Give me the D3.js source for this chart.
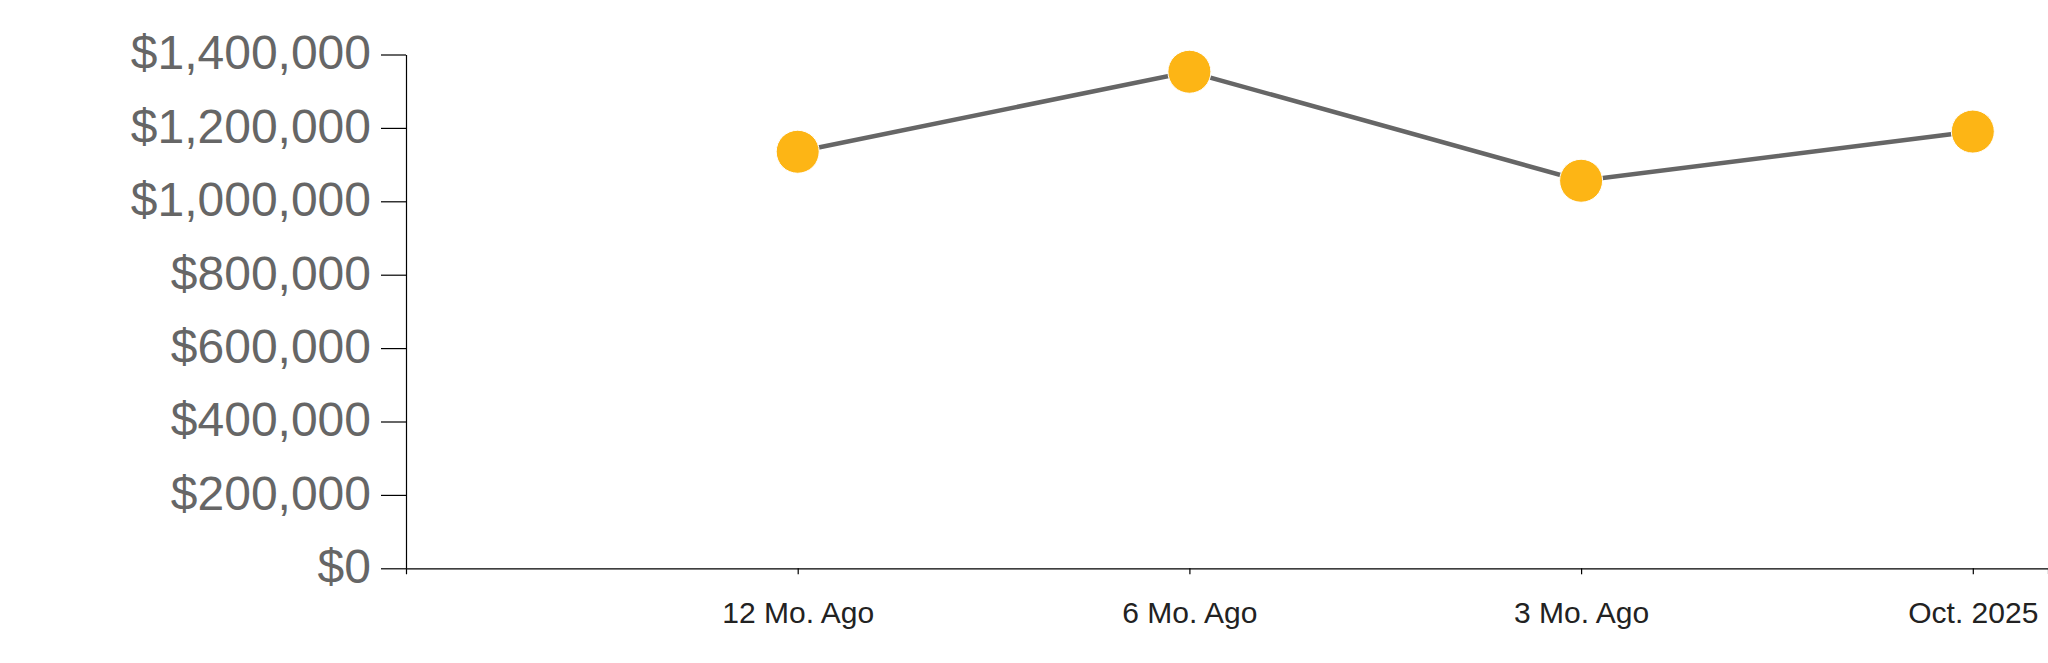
<!DOCTYPE html>
<html>
<head>
<meta charset="utf-8">
<script src="https://cdn.jsdelivr.net/npm/d3@7"></script>
<style>
  html, body { margin: 0; padding: 0; background: #fff; overflow: hidden; }
  svg { display: block; }
</style>
</head>
<body>
<svg id="chart" width="2048" height="663"></svg>
<script>
const categories = ["12 Mo. Ago", "6 Mo. Ago", "3 Mo. Ago", "Oct. 2025"];
const values = [1135000, 1353000, 1056000, 1190000];
const yTicks = [0, 200000, 400000, 600000, 800000, 1000000, 1200000, 1400000];

(function () {
const W = 2048, H = 663;
const mLeft = 406, mBottom = 568.3, mTop = 54.5;
const step = 391.7;

const svg = d3.select("#chart");

const x = d3.scaleLinear()
  .domain([-1, -1 + (W - mLeft) / step])
  .range([mLeft, W]);
const y = d3.scaleLinear().domain([0, 1400000]).range([mBottom, mTop]);

const fmt = v => "$" + d3.format(",")(v);

// Y axis
const gy = svg.append("g")
  .attr("transform", `translate(${mLeft},0)`)
  .call(d3.axisLeft(y).tickValues(yTicks).tickFormat(fmt).tickSize(25).tickSizeOuter(0).tickPadding(10));
gy.select(".domain").attr("stroke", "#000").attr("stroke-width", 1.2);
gy.selectAll(".tick line").attr("stroke", "#000").attr("stroke-width", 1.2);
gy.selectAll(".tick text")
  .attr("font-family", "'Liberation Sans', Arial, sans-serif")
  .attr("font-size", 48)
  .attr("dy", "0.30em")
  .attr("fill", "#666");

// X axis
const gx = svg.append("g")
  .attr("transform", `translate(0,${mBottom})`)
  .call(d3.axisBottom(x).tickValues(d3.range(categories.length))
    .tickFormat(i => categories[i]).tickSize(6).tickSizeOuter(6).tickPadding(27));
gx.select(".domain").attr("stroke", "#000").attr("stroke-width", 1.2);
gx.selectAll(".tick line").attr("stroke", "#000").attr("stroke-width", 1.2);
gx.selectAll(".tick text")
  .attr("font-family", "'Liberation Sans', Arial, sans-serif")
  .attr("font-size", 30)
  .attr("fill", "#222");

// Line
const line = d3.line().x((d, i) => x(i)).y(d => y(d));
svg.append("path")
  .datum(values)
  .attr("d", line)
  .attr("fill", "none")
  .attr("stroke", "#666")
  .attr("stroke-width", 4.5);

// Points
svg.selectAll("circle.pt")
  .data(values)
  .enter().append("circle")
  .attr("class", "pt")
  .attr("cx", (d, i) => x(i))
  .attr("cy", d => y(d))
  .attr("r", 21.5)
  .attr("fill", "#FDB515")
  .attr("stroke", "#fff")
  .attr("stroke-width", 1);
})();
</script>
</body>
</html>
